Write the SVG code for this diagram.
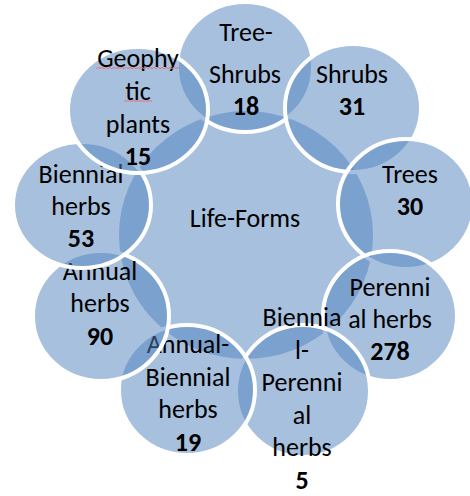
<svg xmlns="http://www.w3.org/2000/svg" width="470" height="496" viewBox="0 0 470 496">
<style>
.c{fill:#4F81BD;fill-opacity:0.5;stroke:#FFFFFF;stroke-width:4}
.cc{fill:#4F81BD;fill-opacity:0.5;stroke:none}
text{font-family:Carlito,Calibri,Lato,"Open Sans",sans-serif;font-size:26px;fill:#000;text-anchor:middle}
.b{font-weight:bold}
.sp{fill:none;stroke:#E8707C;stroke-width:1}
</style>
<rect width="470" height="496" fill="#FFFFFF"/>
<g id="life-forms">
<ellipse class="cc" cx="246" cy="235" rx="127" ry="124"/>
<text x="245" y="227">Life-Forms</text>
</g>
<g id="connectors"></g>
<g id="tree-shrubs">
<ellipse class="c" cx="245" cy="67" rx="68" ry="65"/>
<text x="246" y="41">Tree-</text>
<text x="245" y="83">Shrubs</text>
<text class="b" x="246" y="115">18</text>
</g>
<g id="shrubs">
<ellipse class="c" cx="353" cy="108" rx="68" ry="64"/>
<text x="352" y="83">Shrubs</text>
<text class="b" x="352" y="115">31</text>
</g>
<g id="trees">
<ellipse class="c" cx="406" cy="204" rx="68" ry="65"/>
<text x="410" y="183">Trees</text>
<text class="b" x="410" y="215">30</text>
</g>
<g id="perennial-herbs">
<ellipse class="c" cx="390" cy="316" rx="67" ry="65"/>
<text x="390" y="296">Perenni</text>
<text x="390" y="328">al herbs</text>
<text class="b" x="390" y="360">278</text>
</g>
<g id="biennial-perennial-herbs">
<ellipse class="c" cx="303" cy="391" rx="67" ry="66"/>
<text x="302" y="326">Biennia</text>
<text x="302" y="358.5">l-</text>
<text x="302" y="391">Perenni</text>
<text x="302" y="423.5">al</text>
<text x="302" y="456">herbs</text>
<text class="b" x="302" y="488.5">5</text>
</g>
<g id="annual-biennial-herbs">
<ellipse class="c" cx="187" cy="390" rx="68" ry="65"/>
<text x="188" y="353">Annual-</text>
<text x="188" y="386">Biennial</text>
<text x="188" y="418">herbs</text>
<text class="b" x="188" y="451">19</text>
</g>
<g id="annual-herbs">
<ellipse class="c" cx="101" cy="316" rx="68" ry="65"/>
<text x="100" y="280">Annual</text>
<text x="100" y="312">herbs</text>
<text class="b" x="100" y="345">90</text>
</g>
<g id="biennial-herbs">
<ellipse class="c" cx="82" cy="205" rx="69" ry="63"/>
<text x="81" y="183">Biennial</text>
<text x="81" y="215">herbs</text>
<text class="b" x="81" y="247">53</text>
</g>
<g id="geophytic-plants">
<ellipse class="c" cx="138" cy="110" rx="70" ry="63"/>
<text x="138" y="67">Geophy</text>
<text x="138" y="99.5">tic</text>
<text x="138" y="132.5">plants</text>
<text class="b" x="138" y="165">15</text>
<path class="sp" d="M96 68.5 l2 -1 l2 1 l2 -1 l2 1 l2 -1 l2 1 l2 -1 l2 1 l2 -1 l2 1 l2 -1 l2 1 l2 -1 l2 1 l2 -1 l2 1 l2 -1 l2 1 l2 -1 l2 1 l2 -1 l2 1 l2 -1 l2 1 l2 -1 l2 1 l2 -1 l2 1 l2 -1 l2 1 l2 -1 l2 1 l2 -1 l2 1 l2 -1 l2 1 l2 -1 l2 1 l2 -1 l2 1 l2 -1 l2 1"/>
<path class="sp" d="M124 101.5 l2 -1 l2 1 l2 -1 l2 1 l2 -1 l2 1 l2 -1 l2 1 l2 -1 l2 1 l2 -1 l2 1 l2 -1 l2 1"/>
</g>
</svg>
